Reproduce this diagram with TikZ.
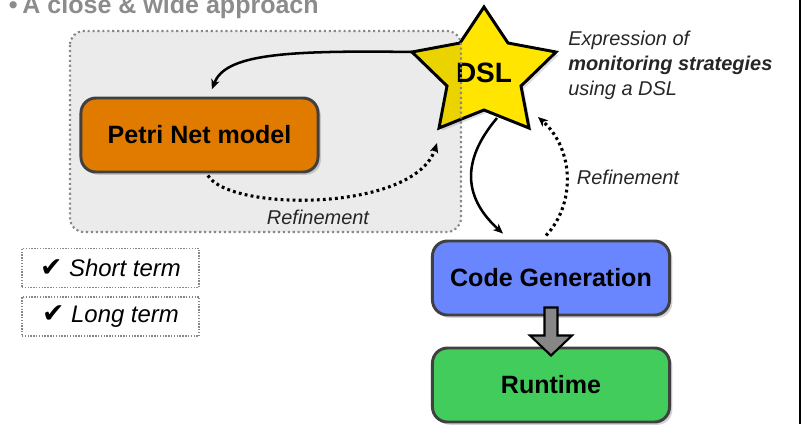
\documentclass[tikz,border=0pt]{standalone}
\usepackage{fontspec}
\setmainfont{Liberation Sans}
\newfontfamily\symfont{DejaVu Sans}
\usetikzlibrary{shadows,calc,arrows.meta}

\definecolor{petriorange}{RGB}{224,123,0}
\definecolor{genblue}{RGB}{106,134,255}
\definecolor{rungreen}{RGB}{66,204,92}
\definecolor{dslyellow}{RGB}{255,229,0}
\definecolor{titlegray}{RGB}{140,140,140}
\definecolor{boxgray}{RGB}{136,136,136}

\tikzset{
  stage/.style={draw=black!75, line width=2.1pt, rounded corners=0.375cm,
    minimum width=5.925cm, minimum height=1.85cm,
    font=\fontsize{17.8}{20}\selectfont\bfseries,
    drop shadow={shadow xshift=2pt, shadow yshift=-2pt, opacity=0.35}},
  flow/.style={line width=1.8pt, ->},
  refine/.style={line width=2.2pt, dash pattern=on 2pt off 2.3pt, ->},
  note/.style={font=\fontsize{14.2}{17.8}\selectfont\itshape, text=black!85},
  term/.style={draw=boxgray, line width=1pt, dash pattern=on 1pt off 1pt,
    minimum width=4.425cm, minimum height=0.98cm,
    font=\fontsize{17}{20}\selectfont\itshape}
}

\begin{document}
\begin{tikzpicture}[x=0.025cm, y=-0.025cm, >={Stealth[length=7pt, width=6pt, inset=2pt]}]
        \useasboundingbox (0,0) rectangle (803,424);
        \clip (0,0) rectangle (803,424);

        % Title
        \node[anchor=base west, inner sep=0, text=titlegray, font=\fontsize{17.8}{20}\selectfont\bfseries] (title) at (8.5,13) {\textbullet\hspace{3.5pt}A close \& wide approach};

        % DSL star
        \filldraw[fill=dslyellow, line width=2.1pt, drop shadow={shadow xshift=2pt, shadow yshift=-2pt, opacity=0.25}]
            (484,7) -- (508,43) -- (556,52) -- (521,86) -- (529,128) -- (484,110)
            -- (439,128) -- (447,86) -- (412,52) -- (460,43) -- cycle;
        \node[inner sep=0, font=\fontsize{19.9}{22}\selectfont\bfseries] (dsl) at (484,73) {DSL};
        \coordinate (dslW) at (412,52);
        \coordinate (dslSW) at (437,143);
        \coordinate (dslS) at (497,118);
        \coordinate (dslSE) at (538,117);

        % Close area
        \draw[fill=black, fill opacity=0.08, draw=boxgray, line width=1.5pt, dash pattern=on 1.5pt off 2pt, rounded corners=0.35cm] (70,31) rectangle (461,232);

        % Stages
        \node[stage, fill=petriorange] (petri) at (199.5,135) {Petri Net model};
        \node[stage, fill=genblue] (codegen) at (551,278) {Code Generation};
        \node[stage, fill=rungreen] (runtime) at (551,385) {Runtime};

        % Generation to runtime
        \filldraw[fill=black!47, line width=1.5pt]
            ($(codegen.south)+(-6.5,-9)$) -- ($(runtime.north)+(-6.5,-11)$) -- ($(runtime.north)+(-21,-11)$)
            -- ($(runtime.north)+(0,9)$) -- ($(runtime.north)+(21,-11)$) -- ($(runtime.north)+(6.5,-11)$)
            -- ($(codegen.south)+(6.5,-9)$) -- cycle;

        % Transformations
        \draw[flow] (dslW) .. controls (280,50) and (225,55) .. ([xshift=0.31cm, yshift=0.18cm]petri.north);
        \draw[flow] (dslS) .. controls (470,150) and (455,190) .. ([xshift=-1.2cm, yshift=0.15cm]codegen.north);

        % Refinements
        \draw[refine] ([xshift=0.21cm, yshift=-0.05cm]petri.south) .. controls (230,212) and (415,212) .. (dslSW);
        \draw[refine] ([xshift=-0.125cm, yshift=0.1cm]codegen.north) .. controls (575,205) and (575,150) .. (dslSE);
        \node[note] (refL) at (318,217) {Refinement};
        \node[note] (refR) at (628,177) {Refinement};

        % Notes
        \node[note, anchor=north west, align=left, inner sep=0] (expr) at (568,31) {Expression of\\\textbf{monitoring strategies}\\using a DSL};
        \node[term] (short) at (110.5,268) {{\symfont\fontsize{19}{20}\selectfont ✔}~Short term};
        \node[term] (long) at (110.5,316.5) {{\symfont\fontsize{19}{20}\selectfont ✔}~Long term};

        \draw[line width=1.2pt] (800,0) -- (800,424);
    \end{tikzpicture}
\end{document}
